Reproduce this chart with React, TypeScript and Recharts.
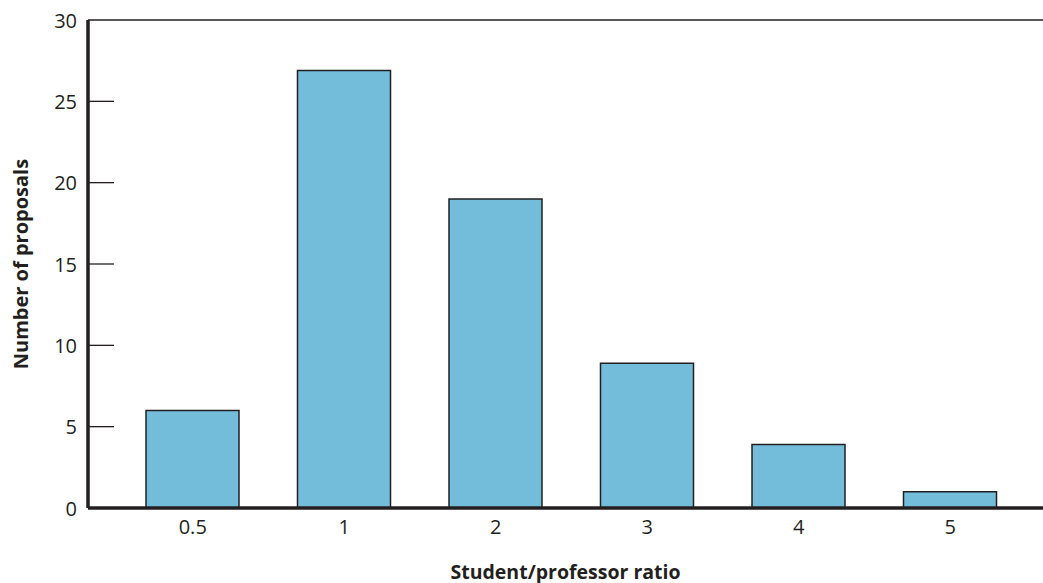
import React from "react";
import { Bar, BarChart, CartesianGrid, XAxis, YAxis } from "recharts";

// Histogram of proposals by student/professor ratio
const RATIOS = ["0.5", "1", "2", "3", "4", "5"];
const PROPOSALS = [6, 26.9, 19, 8.9, 3.9, 1];
const Y_TICKS = [0, 5, 10, 15, 20, 25, 30];

const INK = "#231f20";
const FILL = "#73bddb";
const FONT = "'Open Sans', 'Noto Sans', sans-serif";

const data = RATIOS.map((r, i) => ({ ratio: r, count: PROPOSALS[i] }));

const Y_MARGIN = 11;

function YTick(props: any) {
  const { x, y, payload } = props;
  const v = payload.value;
  const axisX = x + Y_MARGIN;
  return (
    <g>
      {v !== 0 && v !== 30 && (
        <line x1={axisX + 1} y1={y} x2={axisX + 26} y2={y} stroke={INK} strokeWidth={1.3} />
      )}
      <text x={x} y={y} textAnchor="end" dominantBaseline="central" fill={INK} fontSize={20} fontFamily={FONT}>
        {v}
      </text>
    </g>
  );
}

function YLabel(props: any) {
  const vb = props.viewBox;
  const cx = 20;
  const cy = vb.y + vb.height / 2;
  return (
    <text
      x={cx}
      y={cy}
      transform={`rotate(-90 ${cx} ${cy})`}
      textAnchor="middle"
      dominantBaseline="central"
      fill={INK}
      fontSize={20}
      fontWeight="bold"
      fontFamily={FONT}
    >
      Number of proposals
    </text>
  );
}

function XLabel(props: any) {
  const vb = props.viewBox;
  return (
    <text
      x={vb.x + vb.width / 2}
      y={vb.y + vb.height - 12}
      textAnchor="middle"
      dominantBaseline="central"
      fill={INK}
      fontSize={19.5}
      fontWeight="bold"
      fontFamily={FONT}
    >
      Student/professor ratio
    </text>
  );
}

export default function App() {
  return (
    <div style={{ position: "absolute", left: 0, top: 0, background: "#fff" }}>
      <BarChart
        width={1043}
        height={583}
        data={data}
        margin={{ top: 20, right: 0, left: 0, bottom: 0 }}
        barCategoryGap={0}
      >
        <CartesianGrid vertical={false} horizontalValues={[30]} stroke={INK} strokeWidth={1.5} />
        <XAxis
          dataKey="ratio"
          height={75}
          padding={{ left: 29, right: 17 }}
          axisLine={{ stroke: INK, strokeWidth: 3.5 }}
          tickLine={false}
          tickSize={0}
          tickMargin={12}
          tick={{ fill: INK, fontSize: 20, fontFamily: FONT }}
          label={{ content: <XLabel /> }}
        />
        <YAxis
          width={88}
          domain={[0, 30]}
          ticks={Y_TICKS}
          interval={0}
          axisLine={{ stroke: INK, strokeWidth: 3.5 }}
          tickLine={false}
          tickSize={0}
          tickMargin={Y_MARGIN}
          tick={<YTick />}
          label={{ content: <YLabel /> }}
        />
        <Bar dataKey="count" fill={FILL} stroke={INK} strokeWidth={1.5} barSize={93} isAnimationActive={false} />
      </BarChart>
    </div>
  );
}
